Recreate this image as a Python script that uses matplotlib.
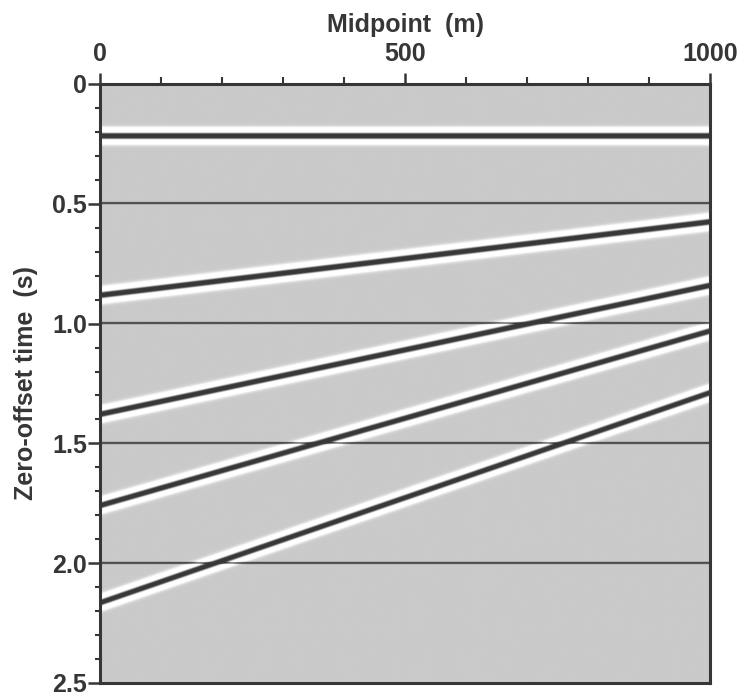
import numpy as np
import matplotlib.pyplot as plt
from matplotlib.ticker import MultipleLocator, FixedLocator, FixedFormatter

plt.rcParams['font.family'] = ['Liberation Sans', 'DejaVu Sans']

# section geometry
midpoints = np.linspace(0, 1000, 400)
times = np.arange(0, 2.5005, 0.001)

# flat reflectors (s)
flat_strong = [0.22]
flat_weak = [0.5, 1.0, 1.5, 2.0]

# dipping reflectors: zero-offset time at midpoint 0 and at midpoint 1000 (s)
dip_left = [0.884, 1.38, 1.76, 2.165]
dip_right = [0.578, 0.843, 1.033, 1.29]

text_color = '#363636'


def ricker(tau, f):
    a = (np.pi * f * tau) ** 2
    return (1 - 2 * a) * np.exp(-a)


T, X = np.meshgrid(times, midpoints, indexing='ij')
section = np.zeros_like(T)

for t0 in flat_strong:
    section += ricker(T - t0, 17)
for t0, t1 in zip(dip_left, dip_right):
    tx = t0 + (t1 - t0) * X / 1000.0
    section += ricker(T - tx, 17)
for t0 in flat_weak:
    section += 1.0 * np.exp(-((T - t0) / 0.0032) ** 2)

# gray background, dark peaks, light side lobes
img = np.clip(0.79 - 1.15 * section, 0.22, 1)

fig = plt.figure(figsize=(7.47, 6.98), dpi=100)
ax = fig.add_axes([0.1339, 0.0215, 0.8166, 0.8582])
ax.imshow(img, cmap='gray', vmin=0, vmax=1, aspect='auto',
          extent=[0, 1000, 2.5, 0], interpolation='bilinear')

ax.set_xlim(0, 1000)
ax.set_ylim(2.5, 0)

for s in ax.spines.values():
    s.set_color(text_color)
    s.set_linewidth(2.2)

ax.xaxis.tick_top()
ax.xaxis.set_label_position('top')
ax.xaxis.set_major_locator(FixedLocator([0, 500, 1000]))
ax.xaxis.set_minor_locator(MultipleLocator(100))
ax.yaxis.set_major_locator(FixedLocator([0, 0.5, 1.0, 1.5, 2.0, 2.5]))
ax.yaxis.set_major_formatter(FixedFormatter(['0', '0.5', '1.0', '1.5', '2.0', '2.5']))
ax.yaxis.set_minor_locator(MultipleLocator(0.1))

ax.tick_params(axis='x', which='major', length=8, width=1.8, direction='out',
               colors=text_color, labelsize=18, pad=5)
ax.tick_params(axis='x', which='minor', length=5, width=1.5, direction='out',
               colors=text_color)
ax.tick_params(axis='y', which='major', length=8.5, width=1.8, direction='out',
               colors=text_color, labelsize=18, pad=1)
ax.tick_params(axis='y', which='minor', length=3.5, width=1.5, direction='out',
               colors=text_color)
for lab in ax.get_xticklabels() + ax.get_yticklabels():
    lab.set_fontweight('bold')
for lab in ax.get_yticklabels():
    lab.set_verticalalignment('center_baseline')

ax.set_xlabel('Midpoint  (m)', fontsize=18, fontweight='bold',
              color=text_color, labelpad=7)
ax.set_ylabel('Zero-offset time  (s)', fontsize=18, fontweight='bold',
              color=text_color, labelpad=10)

fig.savefig('out.png', dpi=100)
